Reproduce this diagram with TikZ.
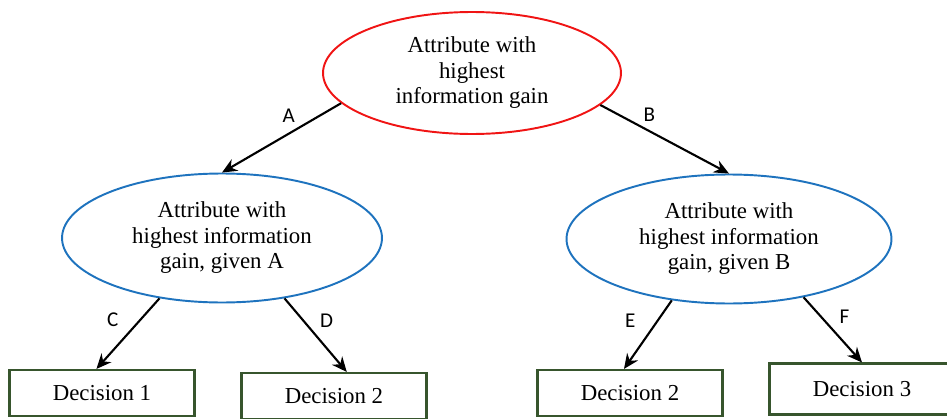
\documentclass[tikz,border=0pt]{standalone}
\usepackage{fontspec}
\setmainfont{Liberation Serif}
\newfontfamily\labelfont{Carlito}
\usepackage{xcolor}
\usepackage{tikz}
\usetikzlibrary{arrows.meta}
\usetikzlibrary{shapes.geometric}
\definecolor{rootred}{RGB}{240,20,20}
\definecolor{attrblue}{RGB}{30,115,190}
\definecolor{leafgreen}{RGB}{55,85,45}
\tikzset{
    tnode/.style = {align=center, inner sep=0pt, text centered, font=\fontsize{13}{14.5}\selectfont},
    root_node/.style = {tnode, ellipse, draw=rootred, line width=1.1pt, minimum width=5.96cm, minimum height=2.44cm},
    attr_node/.style = {tnode, ellipse, draw=attrblue, line width=1.1pt, minimum width=6.4cm, minimum height=2.58cm},
    leaf/.style = {tnode, rectangle, draw=leafgreen, line width=1.2pt, minimum width=3.7cm, minimum height=0.92cm},
    branch/.style = {->, black, line width=1.2pt},
    elabel/.style = {font=\labelfont\fontsize{12}{14}\selectfont, inner sep=2pt}
}

\begin{document}
\begin{tikzpicture}[x=0.02cm, y=-0.02cm, >={Stealth[length=8.5pt,width=7.5pt]}]
    \clip (0,0) rectangle (947,419);
    % tree nodes
    \node [root_node] (root) at (472,73) {Attribute with\\highest\\information gain};
    \node [attr_node] (attrA) at (222,238) {Attribute with\\highest information\\gain, given A};
    \node [attr_node, minimum width=6.5cm] (attrB) at (729,239) {Attribute with\\highest information\\gain, given B};
    \node [leaf] (dec1) at (102,393) {Decision 1};
    \node [leaf] (dec2) at (334,396) {Decision 2};
    \node [leaf] (dec2b) at (630,393) {Decision 2};
    \node [leaf, minimum height=1.02cm] (dec3) at (862,389) {Decision 3};
    % branches
    \draw [branch] (root.193) -- (attrA.north) node [elabel, pos=0.35, above left] {A};
    \draw [branch] (root.346) -- (attrB.north) node [elabel, pos=0.3, above right] {B};
    \draw [branch] (attrA.224) -- (dec1.103) node [elabel, pos=0.3, left=10pt] {C};
    \draw [branch] (attrA.316) -- (dec2.62) node [elabel, pos=0.3, right=7pt] {D};
    \draw [branch] (attrB.227) -- (dec2b.104) node [elabel, pos=0.3, left=10pt] {E};
    \draw [branch] (attrB.322) -- (dec3.north) node [elabel, pos=0.3, right=8pt] {F};
\end{tikzpicture}
\end{document}
